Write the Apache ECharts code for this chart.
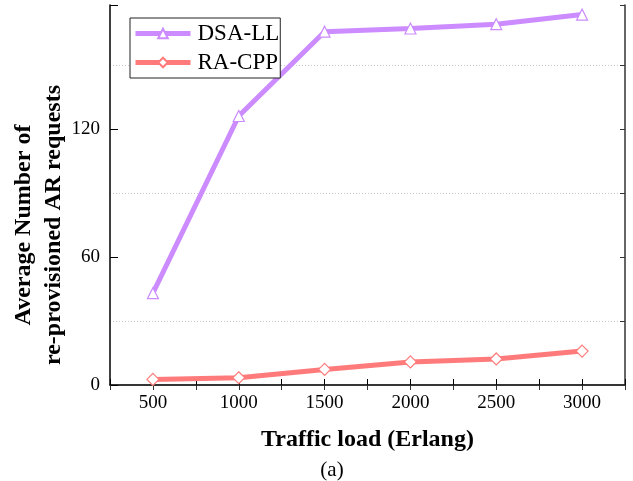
<!DOCTYPE html>
<html>
<head>
<meta charset="utf-8">
<script src="https://cdn.jsdelivr.net/npm/echarts@6/dist/echarts.min.js"></script>
<style>
  html, body { margin: 0; padding: 0; background: #fff; }
  #chart { width: 633px; height: 481px; }
</style>
</head>
<body>
<div id="chart"></div>
<script>
// Traffic load (Erlang) on the x axis
const trafficLoad = [500, 1000, 1500, 2000, 2500, 3000];
// Average number of re-provisioned AR requests per scheme
const dsaLL = [43, 126, 165.5, 167, 169, 173.5];
const raCPP = [2.6, 3.4, 7.3, 10.8, 12.2, 15.9];
const seriesNames = ['DSA-LL', 'RA-CPP'];
const yLabelTicks = [0, 60, 120];
const yTitle = 'Average Number of\nre-provisioned AR requests';

const FONT = '"Liberation Serif", "Times New Roman", serif';
const PURPLE = '#CC8CFF';
const RED = '#FF7B7B';

const chart = echarts.init(document.getElementById('chart'), null, { renderer: 'canvas' });

const pairs = arr => trafficLoad.map((x, i) => [x, arr[i]]);

chart.setOption({
  animation: false,
  backgroundColor: '#fff',
  title: {
    text: '(a)',
    left: 327, top: 455,
    textAlign: 'center',
    textStyle: { fontFamily: FONT, fontWeight: 'normal', fontSize: 21, color: '#000' }
  },
  // rotated two-line y-axis title
  graphic: [{
    type: 'text',
    x: 39, y: 225,
    rotation: Math.PI / 2,
    style: {
      text: yTitle,
      fill: '#000',
      font: 'bold 24px ' + FONT,
      lineHeight: 30,
      align: 'center',
      verticalAlign: 'middle'
    }
  }],
  grid: { left: 110, right: 8, top: 5, bottom: 96, outerBoundsMode: 'none', containLabel: false },
  legend: {
    left: 130, top: 18,
    orient: 'vertical',
    data: seriesNames,
    itemWidth: 55, itemHeight: 12,
    itemGap: 6,
    padding: [4, 1, 4, 3],
    borderColor: '#222', borderWidth: 1,
    backgroundColor: '#fff',
    lineStyle: { width: 5 },
    textStyle: { fontFamily: FONT, fontSize: 23, color: '#000', padding: [0, 0, 0, 2] }
  },
  xAxis: [{
    type: 'value',
    min: 250, max: 3250, interval: 250,
    name: 'Traffic load (Erlang)',
    nameLocation: 'middle', nameGap: 43,
    nameTextStyle: { fontFamily: FONT, fontWeight: 'bold', fontSize: 24, color: '#000' },
    axisLine: { show: true, lineStyle: { color: '#000', width: 1.5 } },
    axisTick: { show: true, inside: true, length: 6, lineStyle: { color: '#000' } },
    axisLabel: {
      margin: 9, fontFamily: FONT, fontSize: 19, color: '#000',
      formatter: v => (v % 500 === 0 && v >= 500 && v <= 3000) ? String(v) : ''
    },
    splitLine: { show: false }
  }, {
    type: 'value', position: 'top',
    min: 250, max: 3250, interval: 250,
    axisLine: { show: true, lineStyle: { color: '#333', width: 1.5 } },
    axisTick: { show: true, inside: true, length: 5, lineStyle: { color: '#333' } },
    axisLabel: { show: false },
    splitLine: { show: false }
  }],
  yAxis: [{
    type: 'value',
    min: 0, max: 178, interval: 60,
    axisLine: { show: true, lineStyle: { color: '#000', width: 1.5 } },
    axisTick: { show: true, inside: true, length: 8, lineStyle: { color: '#000' } },
    axisLabel: {
      margin: 10, fontFamily: FONT, fontSize: 19, color: '#000',
      formatter: v => yLabelTicks.includes(v) ? String(v) : ''
    },
    splitLine: { show: false }
  }, {
    type: 'value', position: 'right',
    min: 0, max: 178, interval: 30,
    axisLine: { show: true, lineStyle: { color: '#333', width: 1.5 } },
    axisTick: { show: true, inside: true, length: 5, lineStyle: { color: '#333' } },
    axisLabel: { show: false },
    splitLine: {
      show: true,
      lineStyle: { color: ['rgba(0,0,0,0)', '#c8c8c8'], type: [1, 2], width: 1 }
    }
  }],
  series: [{
    name: seriesNames[0],
    type: 'line',
    data: pairs(dsaLL),
    symbol: 'triangle', symbolSize: 11,
    showAllSymbol: true,
    lineStyle: { color: PURPLE, width: 5 },
    itemStyle: { color: '#fff', borderColor: PURPLE, borderWidth: 1.2 },
    z: 3
  }, {
    name: seriesNames[1],
    type: 'line',
    data: pairs(raCPP),
    symbol: 'diamond', symbolSize: 12,
    lineStyle: { color: RED, width: 5 },
    itemStyle: { color: '#fff', borderColor: RED, borderWidth: 1.2 },
    z: 3
  }]
});
</script>
</body>
</html>
